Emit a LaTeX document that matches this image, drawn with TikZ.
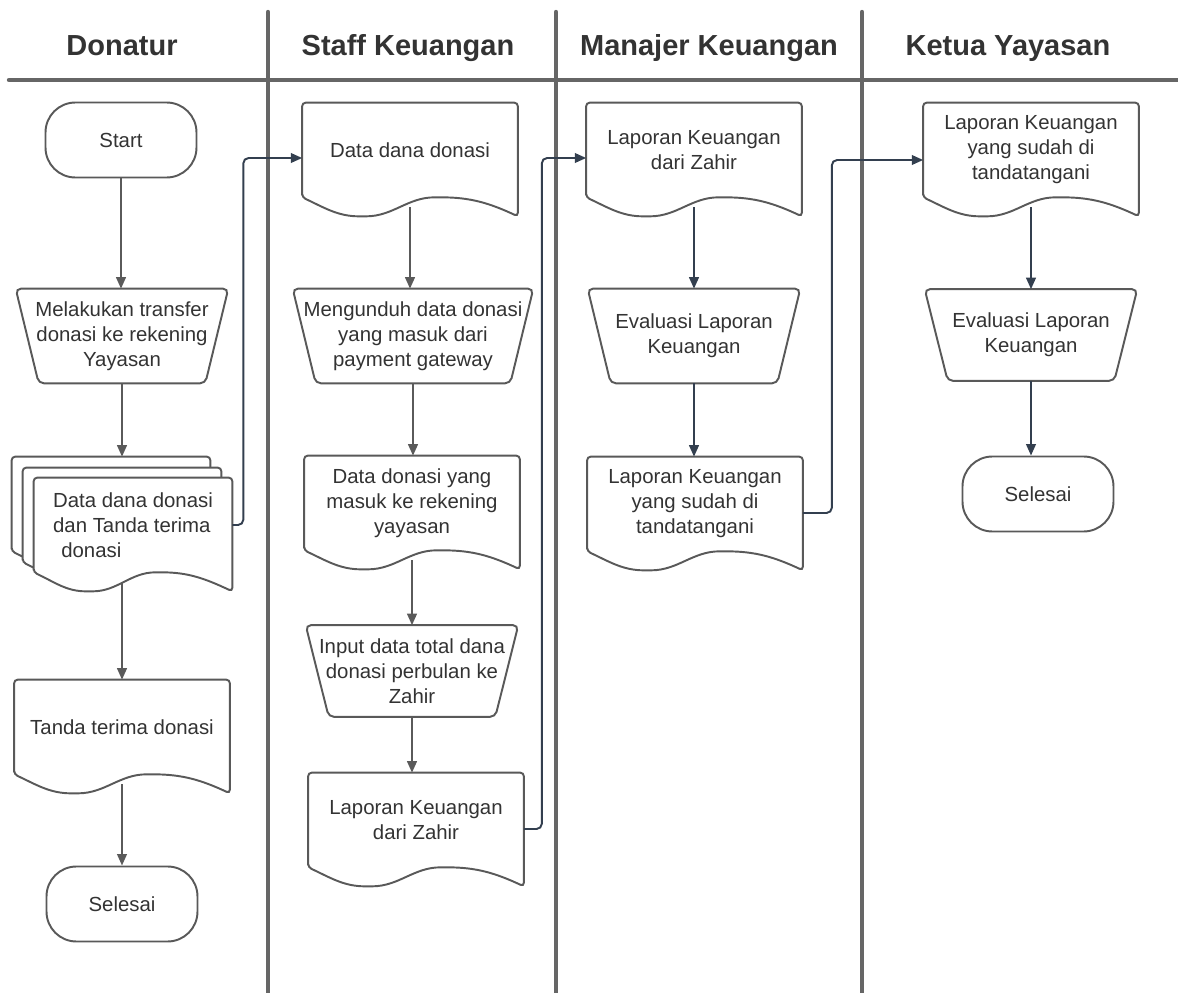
\documentclass[tikz,border=0pt]{standalone}
\usepackage{fontspec}
\setmainfont{Liberation Sans}
\definecolor{LaneGray}{HTML}{666666}
\definecolor{ShapeGray}{HTML}{595959}
\definecolor{TextDark}{HTML}{333333}
\definecolor{ArrowGray}{HTML}{5A5A5A}
\definecolor{ArrowNavy}{HTML}{333F4F}
\usetikzlibrary{
  arrows.meta,
  calc,
  backgrounds
}

\begin{document}
\begin{tikzpicture}[
  x=0.02cm, y=-0.02cm,
  lane/.style={draw=LaneGray, line width=2.5pt, line cap=round},
  lanehead/.style={font=\fontsize{16.5}{20}\selectfont\bfseries,
    text=TextDark, anchor=base},
  box/.style={font=\fontsize{11.6}{14.2}\selectfont, text=TextDark,
    align=center, inner sep=0pt},
  term/.style={box, draw=ShapeGray, line width=1.1pt, rounded corners=17pt,
    minimum width=3.02cm, minimum height=1.5cm},
  doc/.style={box, minimum width=4.3cm, minimum height=1.88cm},
  manual/.style={box, minimum width=4.24cm, minimum height=1.88cm},
  outline/.style={draw=ShapeGray, line width=1.1pt, fill=white},
  flow/.style={draw=ArrowGray, line width=1.1pt,
    -{Triangle[length=6.5pt,width=5.5pt]}},
  link/.style={flow, draw=ArrowNavy, rounded corners=3pt}
]
  \useasboundingbox (0,0) rectangle (1178,993);

  % Lane headers
  \node[lanehead] (hDonatur) at (122,56) {Donatur};
  \node[lanehead] (hStaff) at (408,56) {Staff Keuangan};
  \node[lanehead] (hManajer) at (709,56) {Manajer Keuangan};
  \node[lanehead] (hKetua) at (1008,56) {Ketua Yayasan};

  % Lane lines
  \draw[lane] (9,80) -- (1190,80);
  \draw[lane] (268,12) -- (268,1000);
  \draw[lane] (556,12) -- (556,1000);
  \draw[lane] (862,12) -- (862,1000);

  % Donatur
  \node[term] (start) at (121,140) {Start};
  \node[manual] (transfer) at (122,336)
    {Melakukan transfer\\donasi ke rekening\\Yayasan};
  \node[doc, minimum width=3.96cm] (multiC) at (111,504) {};
  \node[doc, minimum width=3.96cm] (multiB) at (122,515) {};
  \node[doc, minimum width=3.96cm, align=left] (multiA) at (133,525)
    {Data dana donasi\\dan Tanda terima\\\hspace{0.4em}donasi};
  \node[doc] (tanda) at (122,727) {Tanda terima donasi};
  \node[term] (end1) at (122,904) {Selesai};

  % Staff Keuangan
  \node[doc] (dataDana) at (410,150) {Data dana donasi};
  \node[manual, minimum width=4.8cm] (unduh) at (413,336)
    {Mengunduh data donasi\\yang masuk dari\\payment gateway};
  \node[doc] (dataMasuk) at (412,503)
    {Data donasi yang\\masuk ke rekening\\yayasan};
  \node[manual, minimum height=1.82cm] (inputZahir) at (412,671)
    {Input data total dana\\donasi perbulan ke\\Zahir};
  \node[doc] (lapStaff) at (416,820) {Laporan Keuangan\\dari Zahir};

  % Manajer Keuangan
  \node[doc] (lapManajer) at (694,150) {Laporan Keuangan\\dari Zahir};
  \node[manual] (evalManajer) at (694,336) {Evaluasi Laporan\\Keuangan};
  \node[doc] (ttdManajer) at (695,504)
    {Laporan Keuangan\\yang sudah di\\tandatangani};

  % Ketua Yayasan
  \node[doc] (ttdKetua) at (1031,150)
    {Laporan Keuangan\\yang sudah di\\tandatangani};
  \node[manual, minimum height=1.82cm] (evalKetua) at (1031,335)
    {Evaluasi Laporan\\Keuangan};
  \node[term] (end2) at (1038,494) {Selesai};

  % Shape outlines (documents with wavy bottom, manual operations)
  \begin{scope}[on background layer]
    \foreach \nm in {multiC,multiB,multiA,tanda,dataDana,dataMasuk,
                     lapStaff,lapManajer,ttdManajer,ttdKetua}
      \draw[outline, rounded corners=2pt]
        (\nm.south west) -- (\nm.north west) -- (\nm.north east)
        -- ($(\nm.south east)+(0,19)$)
        to[out=155,in=0] ($(\nm.south west)!0.63!(\nm.south east)$)
        to[out=180,in=0] ($(\nm.south west)!0.28!(\nm.south east)+(0,19)$)
        to[out=180,in=-25] (\nm.south west) -- cycle;
    \foreach \nm in {transfer,unduh,inputZahir,evalManajer,evalKetua}
      \draw[outline, rounded corners=3pt]
        (\nm.north west) -- (\nm.north east)
        -- ($(\nm.south east)+(-23,0)$) -- ($(\nm.south west)+(23,0)$)
        -- cycle;
  \end{scope}

  % Wave exits of the documents
  \foreach \nm in {multiA,tanda,dataDana,dataMasuk,lapManajer,ttdKetua}
    \coordinate (\nm-out) at ($(\nm.south)+(0,10)$);

  % Flow inside lanes
  \draw[flow] (start.south) -- (start.south |- transfer.north);
  \draw[flow] (transfer.south) -- (transfer.south |- multiC.north);
  \draw[flow] (multiA-out -| tanda.north) -- (tanda.north);
  \draw[flow] (tanda-out) -- (tanda-out |- end1.north);

  \draw[flow] (dataDana-out) -- (dataDana-out |- unduh.north);
  \draw[flow] (unduh.south) -- (unduh.south |- dataMasuk.north);
  \draw[flow] (dataMasuk-out) -- (dataMasuk-out |- inputZahir.north);
  \draw[flow] (inputZahir.south) -- (inputZahir.south |- lapStaff.north);

  \draw[flow, draw=ArrowNavy] (lapManajer-out)
    -- (lapManajer-out |- evalManajer.north);
  \draw[flow, draw=ArrowNavy] (evalManajer.south)
    -- (evalManajer.south |- ttdManajer.north);
  \draw[flow, draw=ArrowNavy] (ttdKetua-out)
    -- (ttdKetua-out |- evalKetua.north);
  \draw[flow, draw=ArrowNavy] (evalKetua.south)
    -- (evalKetua.south |- end2.north);

  % Links between lanes
  \draw[link] (multiA.east) -- ++(11,0) |- ($(dataDana.west)+(0,8)$);
  \draw[link] ($(lapStaff.east)+(0,9)$) -- ++(18,0)
    |- ($(lapManajer.west)+(0,8)$);
  \draw[link] ($(ttdManajer.east)+(0,9)$) -- ++(29,0)
    |- ($(ttdKetua.west)+(0,10)$);
\end{tikzpicture}
\end{document}
